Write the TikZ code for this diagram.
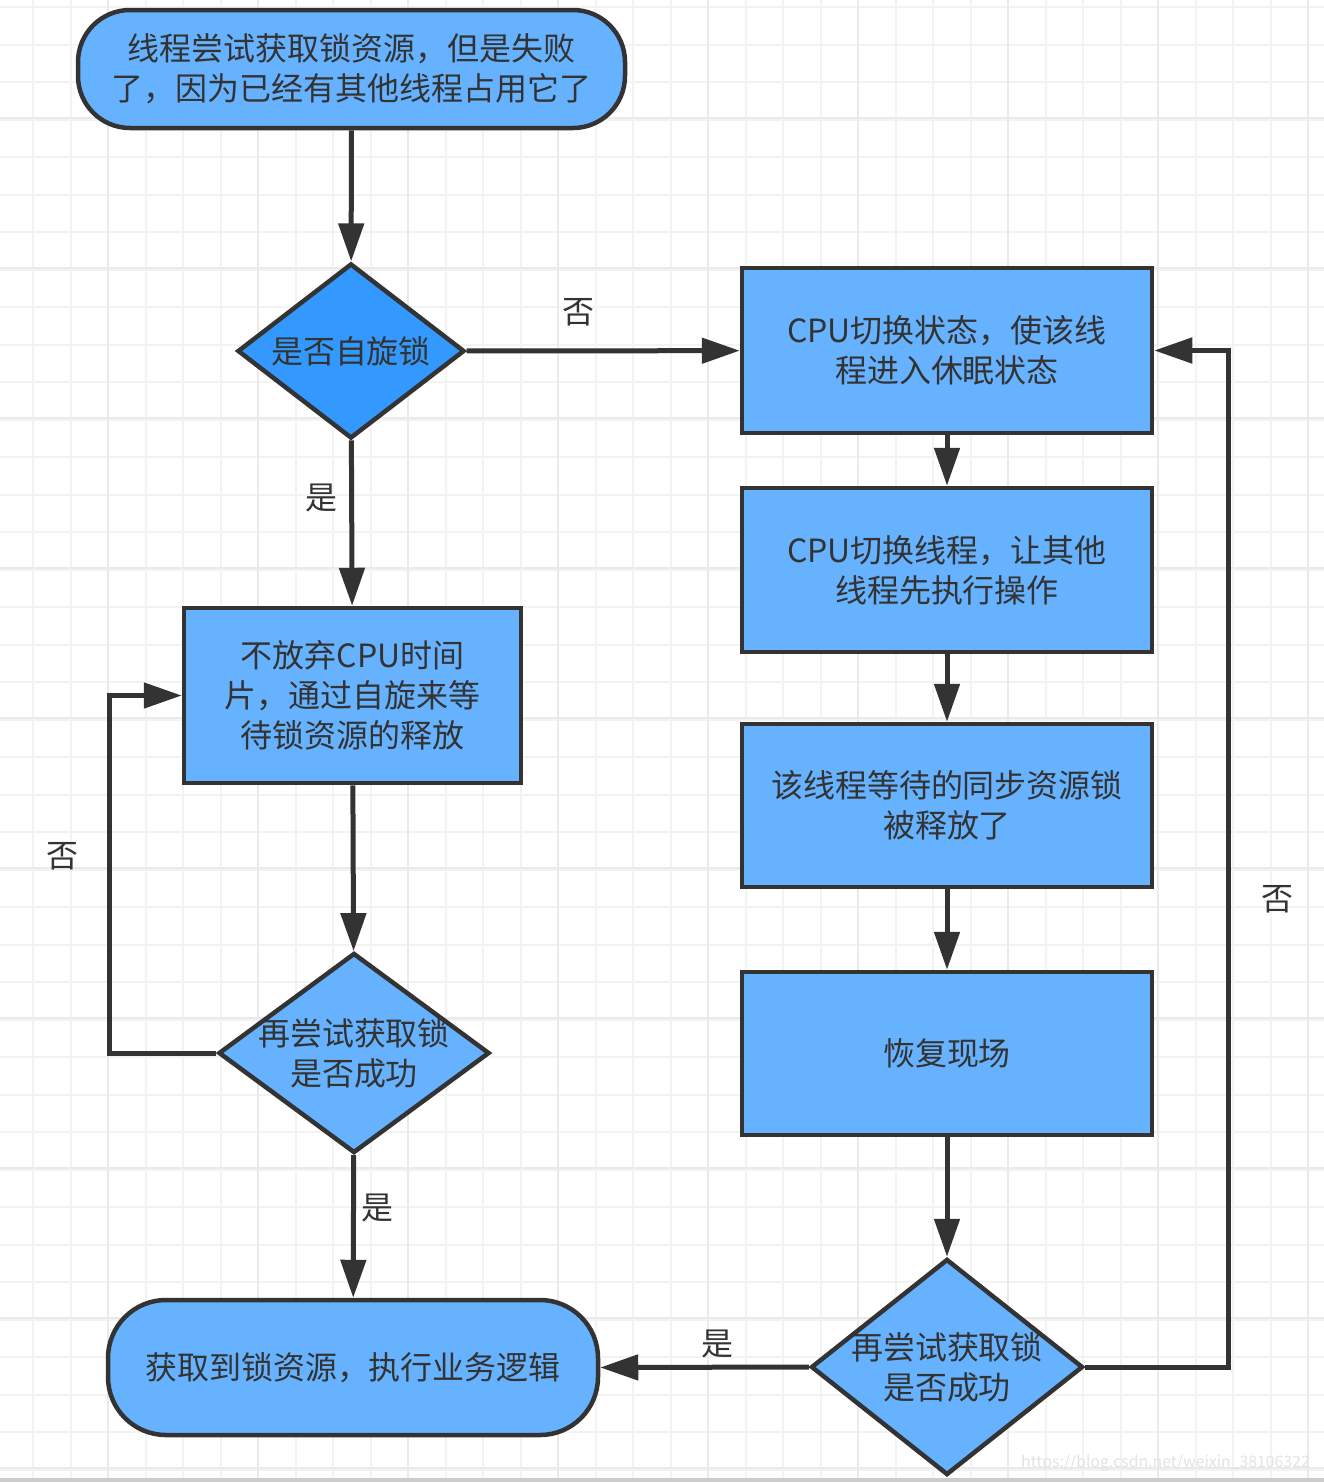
\documentclass[tikz,border=0pt]{standalone}
\usepackage{fontspec}
\setmainfont{Noto Sans CJK SC}
\usetikzlibrary{shapes,shapes.geometric,arrows.meta}
\newdimen\pxu \pxu=0.02cm
\definecolor{boxblue}{HTML}{66B2FF}
\definecolor{deepblue}{HTML}{3399FF}
\definecolor{inkgray}{HTML}{333333}
\definecolor{minorline}{HTML}{F3F3F3}
\definecolor{majorline}{HTML}{EAEAEA}

\begin{document}
\begin{tikzpicture}[x=0.02cm,y=-0.02cm]
				\tikzstyle{every node}=[font=\fontsize{18.2pt}{22.8pt}\selectfont, text=inkgray]
				\tikzstyle{minorgrid}=[line width=2\pxu, draw=minorline]
				\tikzstyle{majorgrid}=[line width=2.5\pxu, draw=majorline]
				\tikzstyle{terminal}=[rectangle, rounded corners=52\pxu, draw=inkgray, fill=boxblue, line width=4.5\pxu, align=center]
				\tikzstyle{process}=[rectangle, draw=inkgray, fill=boxblue, line width=4.5\pxu, align=center, minimum width=410\pxu]
				\tikzstyle{decision}=[diamond, draw=inkgray, fill=boxblue, line width=4.5\pxu, inner sep=0pt]
				\tikzstyle{flow}=[draw=inkgray, line width=5\pxu, -{Triangle[length=0.76cm,width=0.5cm]}]
				\tikzstyle{answer}=[inner sep=0pt]
				\useasboundingbox (0,0) rectangle (1324,1482);
				\fill[white] (0,0) rectangle (1324,1482);
				\foreach \gx in {0,...,35} \draw[minorgrid] ({-4.5+37.5*\gx},0) -- ({-4.5+37.5*\gx},1482);
				\foreach \gy in {0,...,39} \draw[minorgrid] (0,{7+37.5*\gy}) -- (1324,{7+37.5*\gy});
				\foreach \gx in {0,...,9} \draw[majorgrid] ({-42+150*\gx},0) -- ({-42+150*\gx},1482);
				\foreach \gy in {0,...,10} \draw[majorgrid] (0,{-32+150*\gy}) -- (1324,{-32+150*\gy});
				\fill[gray!40] (0,1478) rectangle (1324,1482);
				\node[terminal, minimum width=547\pxu, minimum height=118\pxu] (start) at (351.5,69) {线程尝试获取锁资源，但是失败\\了，因为已经有其他线程占用它了};
				\node[decision, fill=deepblue, minimum width=227\pxu, minimum height=175\pxu, label={[name=spintext]center:是否自旋锁}] (spin) at (351,351) {};
				\node[process, minimum width=337\pxu, minimum height=175\pxu] (wait) at (352.5,695.5) {不放弃CPU时间\\片，通过自旋来等\\待锁资源的释放};
				\node[decision, minimum width=271\pxu, minimum height=200\pxu, label={[name=retrytext, align=center]center:再尝试获取锁\\是否成功}] (retry) at (354,1053) {};
				\node[terminal, minimum width=490\pxu, minimum height=135\pxu, rounded corners=58\pxu] (done) at (353,1367.5) {获取到锁资源，执行业务逻辑};
				\node[process, minimum height=165\pxu] (sleep) at (947,350.5) {CPU切换状态，使该线\\程进入休眠状态};
				\node[process, minimum height=164\pxu] (switch) at (947,570) {CPU切换线程，让其他\\线程先执行操作};
				\node[process, minimum height=163\pxu] (released) at (947,805.5) {该线程等待的同步资源锁\\被释放了};
				\node[process, minimum height=163\pxu] (restore) at (947,1053.5) {恢复现场};
				\node[decision, minimum width=272\pxu, minimum height=216\pxu, label={[name=checktext, align=center]center:再尝试获取锁\\是否成功}] (check) at (947,1367) {};
				\node[font=\fontsize{9pt}{10pt}\selectfont, text=gray!22, anchor=east] (mark) at (1316,1463) {https://blog.csdn.net/weixin\_38106322};
				\draw[flow] (start) -- (spin);
				\draw[flow] (spin) -- node[answer, pos=0.41, yshift=39\pxu] (spinno) {否} (sleep);
				\draw[flow] (spin) -- node[answer, pos=0.35, xshift=-30\pxu] (spinyes) {是} (wait);
				\draw[flow] (wait) -- (retry);
				\draw[flow] (retry.west) -- ++(-107,0) |- node[answer, pos=0.275, xshift=-47\pxu] (retryno) {否} (wait.west);
				\draw[flow] (retry) -- node[answer, pos=0.37, xshift=24\pxu] (retryyes) {是} (done);
				\draw[flow] (sleep) -- (switch);
				\draw[flow] (switch) -- (released);
				\draw[flow] (released) -- (restore);
				\draw[flow] (restore) -- (check);
				\draw[flow] (check.east) -- ++(143,0) |- node[answer, pos=0.23, xshift=49\pxu] (checkno) {否} (sleep.east);
				\draw[flow] (check.west) -- node[answer, pos=0.44, yshift=23\pxu] (checkyes) {是} (done.east);
			\end{tikzpicture}
\end{document}
